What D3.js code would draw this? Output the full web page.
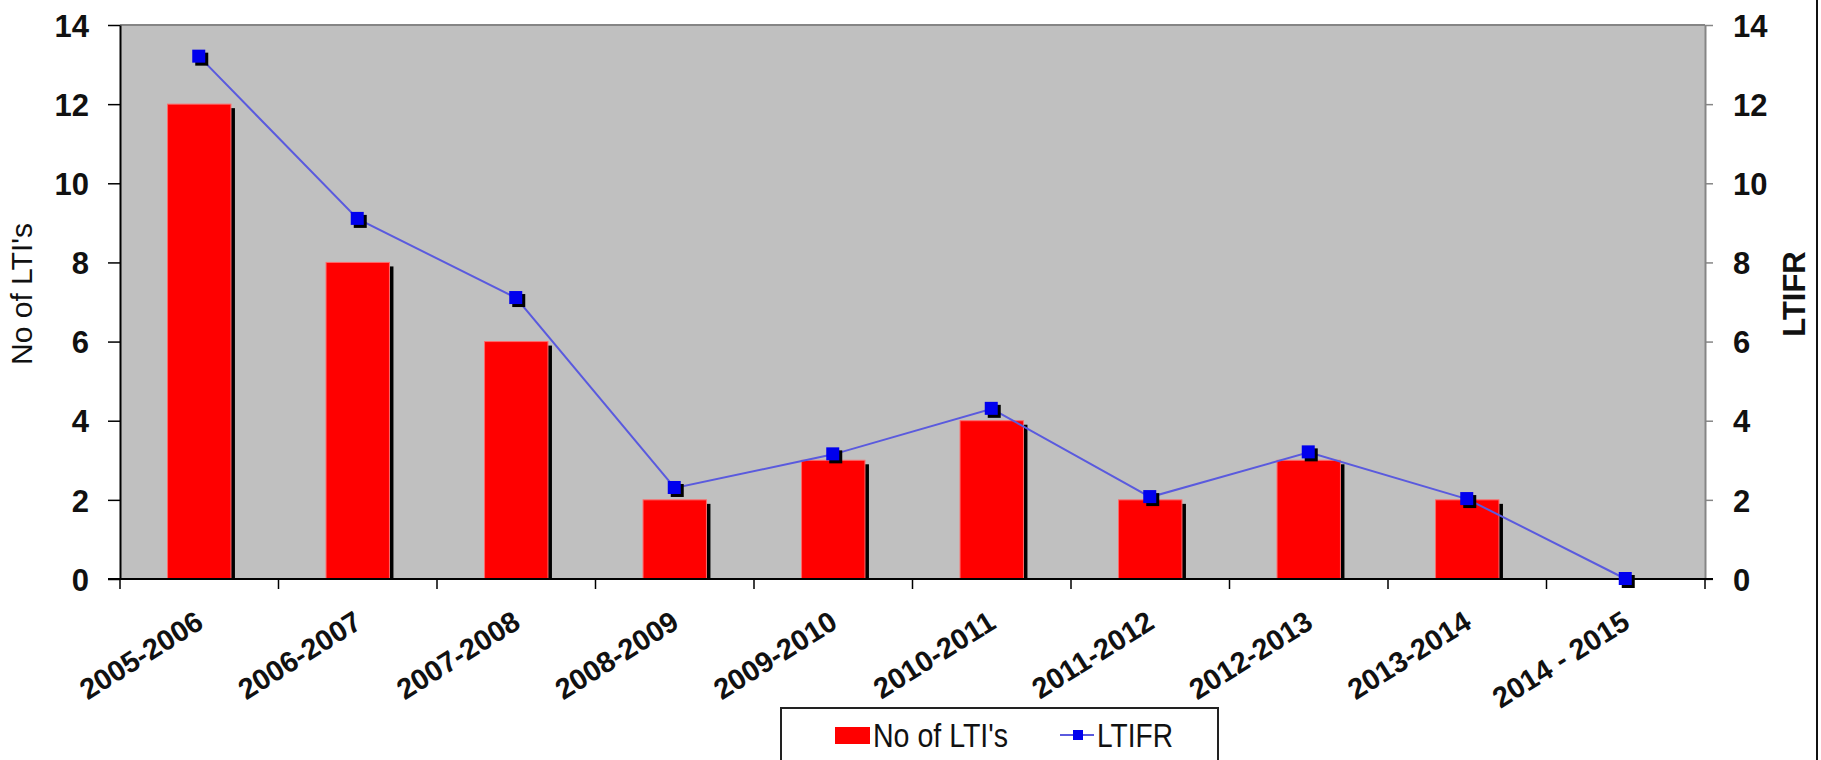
<!DOCTYPE html>
<html>
<head>
<meta charset="utf-8">
<script src="https://cdn.jsdelivr.net/npm/d3@7"></script>
<style>
  body { margin: 0; background: #fff; }
  text { font-family: "Liberation Sans", Arial, sans-serif; fill: #111; }
</style>
</head>
<body>
<div id="chart"></div>
<script>
// data
const years = ["2005-2006", "2006-2007", "2007-2008", "2008-2009", "2009-2010",
               "2010-2011", "2011-2012", "2012-2013", "2013-2014", "2014 - 2015"];
const ltis = [12, 8, 6, 2, 3, 4, 2, 3, 2, 0];
const ltifr = [13.2, 9.1, 7.1, 2.3, 3.15, 4.3, 2.07, 3.2, 2.02, 0];
const yTicks = [0, 2, 4, 6, 8, 10, 12, 14];

const width = 1821, height = 760;
const plot = { left: 120, right: 1705, top: 25, bottom: 579 };

let svg = d3.select("#chart")
    .append("svg")
    .attr("width", width)
    .attr("height", height);

// scales
const x = d3.scaleBand()
    .domain(years)
    .range([plot.left, plot.right])
    .paddingInner(0.6)
    .paddingOuter(0.3);
const xc = d => x(d) + x.bandwidth() / 2;
const y = d3.scaleLinear().domain([0, 14]).range([plot.bottom, plot.top]);

// plot background
svg.append("rect")
    .attr("x", plot.left).attr("y", plot.top)
    .attr("width", plot.right - plot.left)
    .attr("height", plot.bottom - plot.top)
    .attr("fill", "#c0c0c0");
svg.append("line")
    .attr("x1", plot.left).attr("x2", plot.right)
    .attr("y1", plot.top).attr("y2", plot.top)
    .attr("stroke", "#858585").attr("stroke-width", 2);

// bars with a drop shadow
const bars = svg.append("g");
bars.selectAll(".shadow").data(years).join("rect")
    .attr("class", "shadow")
    .attr("x", d => x(d) + 4)
    .attr("y", (d, i) => y(ltis[i]) + 4)
    .attr("width", x.bandwidth())
    .attr("height", (d, i) => Math.max(0, y(0) - y(ltis[i]) - 4))
    .attr("fill", "#000");
bars.selectAll(".bar").data(years).join("rect")
    .attr("class", "bar")
    .attr("x", d => x(d))
    .attr("y", (d, i) => y(ltis[i]))
    .attr("width", x.bandwidth())
    .attr("height", (d, i) => y(0) - y(ltis[i]))
    .attr("fill", "#ff0000")
    .attr("stroke", "#ff6a6a").attr("stroke-width", 1);

// left axis
let left = svg.append("g")
    .attr("transform", `translate(${plot.left},0)`)
    .call(d3.axisLeft(y).tickValues(yTicks).tickSize(12).tickSizeOuter(0).tickPadding(19));
left.select(".domain").attr("stroke", "#000").attr("stroke-width", 2);
left.selectAll(".tick line").attr("stroke", "#000").attr("stroke-width", 1.5);
left.selectAll("text").style("font-size", "31px").style("font-weight", "bold").attr("dy", "0.36em");

// right axis
let right = svg.append("g")
    .attr("transform", `translate(${plot.right},0)`)
    .call(d3.axisRight(y).tickValues(yTicks).tickSize(8).tickSizeOuter(0).tickPadding(20));
right.select(".domain").attr("stroke", "#858585").attr("stroke-width", 2);
right.selectAll(".tick line").attr("stroke", "#858585").attr("stroke-width", 1.5);
right.selectAll("text").style("font-size", "31px").style("font-weight", "bold").attr("dy", "0.36em");

// bottom axis, ticks sit between categories
let bottom = svg.append("g")
    .attr("transform", `translate(0,${plot.bottom})`);
bottom.append("line")
    .attr("x1", plot.left - 12).attr("x2", plot.right + 8)
    .attr("stroke", "#000").attr("stroke-width", 2);
bottom.selectAll(".xtick").data(years.concat(["end"])).join("line")
    .attr("class", "xtick")
    .attr("x1", (d, i) => plot.left + i * (plot.right - plot.left) / years.length)
    .attr("x2", (d, i) => plot.left + i * (plot.right - plot.left) / years.length)
    .attr("y1", 0).attr("y2", 10)
    .attr("stroke", "#000").attr("stroke-width", 1.5);
bottom.selectAll(".xlabel").data(years).join("text")
    .attr("class", "xlabel")
    .attr("transform", d => `translate(${xc(d) + 6},48) rotate(-32)`)
    .attr("text-anchor", "end")
    .style("font-size", "29px")
    .style("font-weight", "bold")
    .text(d => d);

// LTIFR line and markers
const line = d3.line()
    .x((d, i) => xc(years[i]))
    .y(d => y(d));
svg.append("path")
    .datum(ltifr)
    .attr("d", line)
    .attr("fill", "none")
    .attr("stroke", "#5a5ade")
    .attr("stroke-width", 2);
const markers = svg.append("g");
markers.selectAll(".mshadow").data(ltifr).join("rect")
    .attr("class", "mshadow")
    .attr("x", (d, i) => xc(years[i]) - 4)
    .attr("y", d => y(d) - 4)
    .attr("width", 13).attr("height", 13)
    .attr("fill", "#000");
markers.selectAll(".marker").data(ltifr).join("rect")
    .attr("class", "marker")
    .attr("x", (d, i) => xc(years[i]) - 7)
    .attr("y", d => y(d) - 7)
    .attr("width", 13).attr("height", 13)
    .attr("fill", "#0000ee");

// axis titles
svg.append("text")
    .attr("transform", `translate(32,${(plot.top + plot.bottom) / 2 - 8}) rotate(-90)`)
    .attr("text-anchor", "middle")
    .style("font-size", "30px")
    .text("No of LTI's");
svg.append("text")
    .attr("transform", `translate(1805,${(plot.top + plot.bottom) / 2 - 8}) rotate(-90)`)
    .attr("text-anchor", "middle")
    .style("font-size", "31px")
    .style("font-weight", "bold")
    .text("LTIFR");

// legend
let legend = svg.append("g");
legend.append("rect")
    .attr("x", 781).attr("y", 708)
    .attr("width", 437).attr("height", 70)
    .attr("fill", "#fff")
    .attr("stroke", "#222").attr("stroke-width", 2);
legend.append("rect")
    .attr("x", 835).attr("y", 727)
    .attr("width", 35).attr("height", 17)
    .attr("fill", "#ff0000");
legend.append("text")
    .attr("x", 873).attr("y", 747)
    .attr("textLength", 135).attr("lengthAdjust", "spacingAndGlyphs")
    .style("font-size", "33px")
    .text("No of LTI's");
legend.append("line")
    .attr("x1", 1060).attr("x2", 1094)
    .attr("y1", 735).attr("y2", 735)
    .attr("stroke", "#5a5ade").attr("stroke-width", 2);
legend.append("rect")
    .attr("x", 1073).attr("y", 730)
    .attr("width", 10).attr("height", 10)
    .attr("fill", "#0000ee");
legend.append("text")
    .attr("x", 1097).attr("y", 747)
    .attr("textLength", 76).attr("lengthAdjust", "spacingAndGlyphs")
    .style("font-size", "33px")
    .text("LTIFR");

// outer frame edge on the right
svg.append("line")
    .attr("x1", 1817).attr("x2", 1817)
    .attr("y1", 0).attr("y2", height)
    .attr("stroke", "#111").attr("stroke-width", 2);
</script>
</body>
</html>
